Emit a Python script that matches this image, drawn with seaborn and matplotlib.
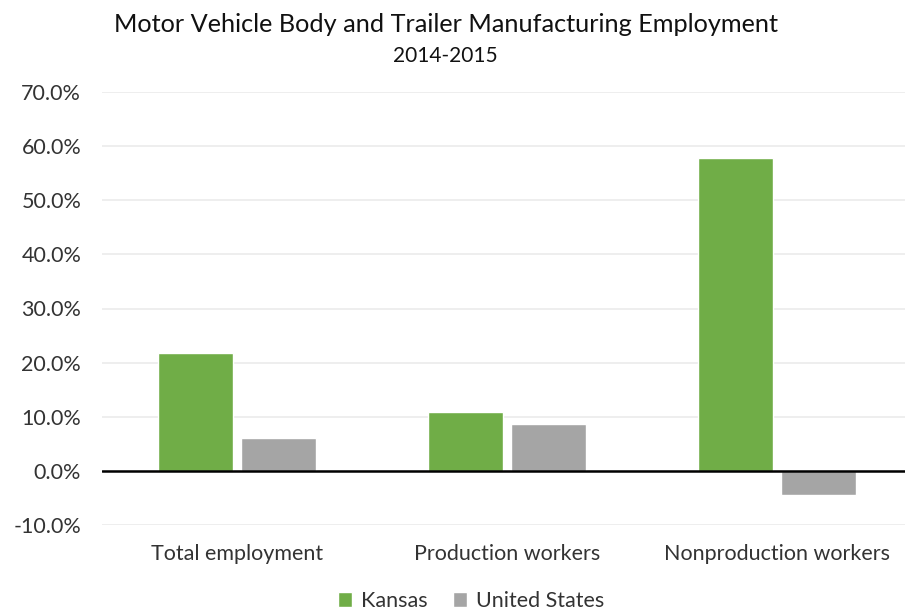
import matplotlib
matplotlib.use("Agg")
import matplotlib.pyplot as plt
import numpy as np
import pandas as pd
import seaborn as sns

categories = ["Total employment", "Production workers", "Nonproduction workers"]
kansas = [21.7, 10.9, 57.8]
united_states = [6.0, 8.7, -4.4]
series_names = ["Kansas", "United States"]
colors = ["#70AD47", "#A5A5A5"]
y_ticks = [-10, 0, 10, 20, 30, 40, 50, 60, 70]

if __name__ == '__main__':
    sns.set_style("white")
    plt.rcParams['font.family'] = ['Lato', 'DejaVu Sans']

    df = pd.DataFrame({
        "category": categories * 2,
        "series": [series_names[0]] * 3 + [series_names[1]] * 3,
        "value": kansas + united_states,
    })

    fig = plt.figure(figsize=(9.05, 6.12), dpi=100)
    ax = fig.add_axes([102 / 905, 1 - 525 / 612, 810 / 905, 433 / 612])
    sns.barplot(data=df, x="category", y="value", hue="series", palette=colors,
                width=0.617, gap=0.1, ax=ax, saturation=1, legend=True)

    ax.set_ylim(-10, 70)
    ax.set_xlim(-0.5, 2.5)
    ax.set_yticks(y_ticks)
    ax.set_yticklabels([f"{v:.1f}%" for v in y_ticks], fontsize=15.5, color="#333333")
    ax.tick_params(axis="x", labelsize=15.5, labelcolor="#333333", pad=14, length=0)
    ax.tick_params(axis="y", length=0, pad=15)
    ax.grid(axis="y", color="#EBEBEB", linewidth=1.2)
    ax.set_axisbelow(True)
    ax.axhline(0, color="black", linewidth=1.8, zorder=5)
    for s in ax.spines.values():
        s.set_visible(False)
    ax.set_xlabel("")
    ax.set_ylabel("")

    # legend sits a little left of centre, as in the source
    ax.legend(loc="center", bbox_to_anchor=(0.456, -76 / 433), ncol=2,
              frameon=False, fontsize=15.5, handlelength=0.65, handleheight=0.65,
              handletextpad=0.4, columnspacing=1.2, labelcolor="#333333")

    fig.text(0.5 - 7 / 905, 1 - 24 / 612, "Motor Vehicle Body and Trailer Manufacturing Employment",
             ha="center", va="center", fontsize=18.2, color="#111111")
    fig.text(0.5 - 7 / 905, 1 - 56 / 612, "2014-2015", ha="center", va="center",
             fontsize=15, color="#111111")

    fig.savefig("out.png", dpi=100)
